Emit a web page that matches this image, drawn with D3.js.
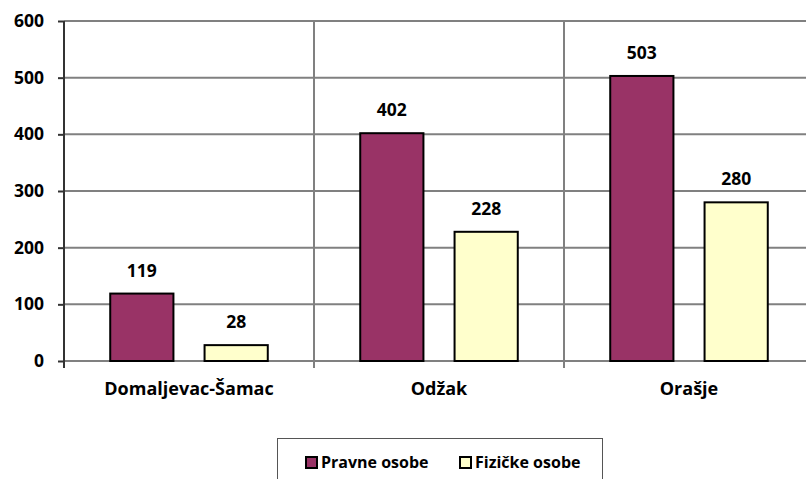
<!DOCTYPE html>
<html><head><meta charset="utf-8">
<script src="https://cdn.jsdelivr.net/npm/d3@7"></script>
<style>body{margin:0;background:#fff}svg{display:block}</style>
</head><body>
<script>
const categories = ["Domaljevac-Šamac", "Odžak", "Orašje"];
const seriesNames = ["Pravne osobe", "Fizičke osobe"];
const pravne = [119, 402, 503];
const fizicke = [28, 228, 280];
const yTicks = [0, 100, 200, 300, 400, 500, 600];
const colors = ["#993366", "#FFFFCC"];

const W = 806, H = 479;
const font = "'Open Sans', Lato, sans-serif";
const svg = d3.select("body").append("svg").attr("width", W).attr("height", H);

const x0 = 64, x1 = 814, yTop = 21, yBot = 361;
const x = d3.scaleBand().domain(categories).range([x0, x1]).paddingInner(0).paddingOuter(0);
const xs = d3.scaleBand().domain(seriesNames).range([0, x.bandwidth()]).paddingInner(0.33).paddingOuter(0.49);
const y = d3.scaleLinear().domain([0, 600]).range([yBot, yTop]);

// horizontal grid
svg.append("g").selectAll("line").data(yTicks).join("line")
  .attr("x1", x0).attr("x2", x1).attr("y1", d => y(d)).attr("y2", d => y(d))
  .attr("stroke", "#808080").attr("stroke-width", 2);
// vertical grid / category separators
svg.append("g").selectAll("line").data(categories.slice(1)).join("line")
  .attr("x1", d => x(d)).attr("x2", d => x(d)).attr("y1", yTop).attr("y2", yBot + 7)
  .attr("stroke", "#808080").attr("stroke-width", 2);

// y axis
const yAxis = d3.axisLeft(y).tickValues(yTicks).tickSize(6).tickPadding(14);
const ga = svg.append("g").attr("transform", `translate(${x0},0)`).call(yAxis);
ga.select(".domain").remove();
ga.selectAll(".tick line").attr("stroke", "#333").attr("stroke-width", 2);
ga.selectAll("text").attr("font-family", font).attr("font-weight", "bold").attr("font-size", 17.5).attr("fill", "#000");
svg.append("line").attr("x1", x0).attr("x2", x0).attr("y1", yTop).attr("y2", yBot + 7)
  .attr("stroke", "#333").attr("stroke-width", 2);

// bars
const data = categories.map((c, i) => ({c, vals: [pravne[i], fizicke[i]]}));
const groups = svg.append("g").selectAll("g").data(data).join("g")
  .attr("transform", d => `translate(${x(d.c)},0)`);
groups.selectAll("rect").data(d => d.vals.map((v, j) => ({v, s: seriesNames[j], j}))).join("rect")
  .attr("x", d => xs(d.s)).attr("width", xs.bandwidth())
  .attr("y", d => y(d.v)).attr("height", d => yBot - y(d.v))
  .attr("fill", d => colors[d.j]).attr("stroke", "#000").attr("stroke-width", 2);
groups.selectAll("text.val").data(d => d.vals.map((v, j) => ({v, s: seriesNames[j]}))).join("text")
  .attr("class", "val")
  .attr("x", d => xs(d.s) + xs.bandwidth() / 2).attr("y", d => y(d.v) - 17)
  .attr("text-anchor", "middle").attr("font-family", font).attr("font-weight", "bold")
  .attr("font-size", 17.5).text(d => d.v);

// category labels
svg.append("g").selectAll("text").data(categories).join("text")
  .attr("x", d => x(d) + x.bandwidth() / 2).attr("y", 395)
  .attr("text-anchor", "middle").attr("font-family", font).attr("font-weight", "bold")
  .attr("font-size", 18).text(d => d);

// legend
const lg = svg.append("g");
lg.append("rect").attr("x", 277.5).attr("y", 438.5).attr("width", 325).attr("height", 60)
  .attr("fill", "#fff").attr("stroke", "#555").attr("stroke-width", 1);
const lx = [306, 460];
seriesNames.forEach((s, i) => {
  lg.append("rect").attr("x", lx[i]).attr("y", 457).attr("width", 11).attr("height", 11)
    .attr("fill", colors[i]).attr("stroke", "#000").attr("stroke-width", 2);
  lg.append("text").attr("x", lx[i] + 15).attr("y", 468).attr("font-family", font)
    .attr("font-weight", "bold").attr("font-size", 16).text(s);
});
</script>
</body></html>
